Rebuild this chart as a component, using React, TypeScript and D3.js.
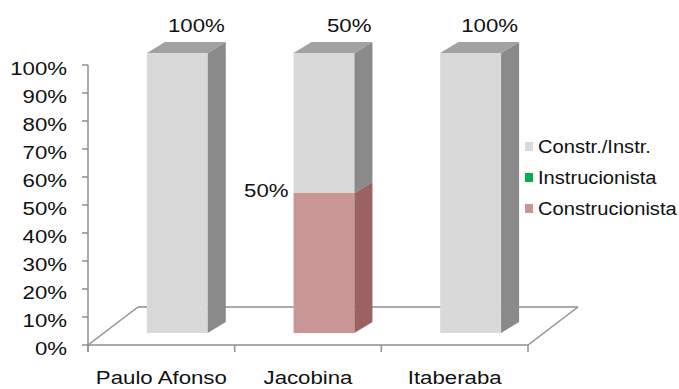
import React from "react";
import * as d3 from "d3";

const categories = ["Paulo Afonso", "Jacobina", "Itaberaba"];
const seriesNames = ["Construcionista", "Instrucionista", "Constr./Instr."];
const construcionista = [0, 0.5, 0];
const instrucionista = [0, 0, 0];
const constrInstr = [1, 0.5, 1];
const yTicks = [0, 0.1, 0.2, 0.3, 0.4, 0.5, 0.6, 0.7, 0.8, 0.9, 1];
const legendOrder = ["Constr./Instr.", "Instrucionista", "Construcionista"];

const W = 679;
const H = 389;
const FONT = "'Liberation Sans', Arial, sans-serif";
const colors: Record<string, { front: string; side: string; top: string }> = {
  "Construcionista": { front: "#c99696", side: "#9c6262", top: "#b07a7a" },
  "Instrucionista": { front: "#00b050", side: "#008a3e", top: "#00a048" },
  "Constr./Instr.": { front: "#d9d9d9", side: "#8a8a8a", top: "#a2a2a2" },
};

export default function App() {
  const left = 88, right = 528, bottom = 345, top = 65;
  const floorDx = 50, floorDy = 38;
  const shiftX = 16, shiftY = 12; // bar front depth position
  const depthX = 18, depthY = 11; // bar depth
  const x = d3.scaleBand<string>().domain(categories).range([left, right]);
  const y = d3.scaleLinear().domain([0, 1]).range([bottom, top]);
  const barW = x.bandwidth() * 0.415;

  const seriesValues = [construcionista, instrucionista, constrInstr];
  const stack = d3.stack<number>().keys(seriesNames.map((_, i) => String(i)))
    .value((i, k) => seriesValues[+k][i]);
  const stacked = stack(categories.map((_, i) => i));

  const axisColor = "#8f8f8f";
  const txt = (key: string, tx: number, ty: number, s: string, anchor: string, size = 17.5, sx = 1.27) => (
    <g key={key} transform={`translate(${tx},${ty}) scale(${sx},1)`}>
      <text textAnchor={anchor} fontFamily={FONT} fontSize={size} fill="#111">{s}</text>
    </g>
  );

  const bars: React.ReactNode[] = [];
  const labels: React.ReactNode[] = [];
  categories.forEach((c, ci) => {
    const x0 = (x(c) as number) + x.bandwidth() / 2 + shiftX - barW / 2;
    const x1 = x0 + barW;
    let topSeries = -1;
    stacked.forEach((s, si) => { if (s[ci][1] - s[ci][0] > 0) topSeries = si; });
    stacked.forEach((s, si) => {
      const v0 = s[ci][0], v1 = s[ci][1];
      if (v1 - v0 <= 0) return;
      const col = colors[seriesNames[si]];
      const yb = y(v0) - shiftY, yt = y(v1) - shiftY;
      bars.push(<rect key={`f${ci}${si}`} x={x0} y={yt} width={barW} height={yb - yt} fill={col.front} />);
      bars.push(<polygon key={`s${ci}${si}`} fill={col.side}
        points={`${x1},${yb} ${x1 + depthX},${yb - depthY} ${x1 + depthX},${yt - depthY} ${x1},${yt}`} />);
      if (si === topSeries) {
        bars.push(<polygon key={`t${ci}${si}`} fill={col.top}
          points={`${x0},${yt} ${x0 + depthX},${yt - depthY} ${x1 + depthX},${yt - depthY} ${x1},${yt}`} />);
        labels.push(txt(`l${ci}${si}`, x1 + depthX - 1, 32, d3.format(".0%")(v1 - v0), "end"));
      } else {
        labels.push(txt(`l${ci}${si}`, x0 - 5, yt + 4, d3.format(".0%")(v1 - v0), "end"));
      }
    });
  });

  return (
    <svg width={W} height={H} style={{ position: "absolute", left: 0, top: 0, background: "#fff" }}>
      <g stroke={axisColor} strokeWidth={1.5} fill="none">
        <line x1={left} y1={bottom} x2={left + floorDx} y2={bottom - floorDy} />
        <line x1={left + floorDx} y1={bottom - floorDy} x2={right + floorDx} y2={bottom - floorDy} />
        <line x1={right} y1={bottom} x2={right + floorDx} y2={bottom - floorDy} />
        <line x1={left} y1={bottom} x2={right} y2={bottom} />
        <line x1={left} y1={top} x2={left} y2={bottom + 7} />
        {yTicks.map((t) => <line key={`yt${t}`} x1={left - 6} x2={left} y1={y(t)} y2={y(t)} />)}
        {[...categories.map((c) => x(c) as number), right].map((v, i) => (
          <line key={`xt${i}`} x1={v} x2={v} y1={bottom} y2={bottom + 7} />
        ))}
      </g>
      {bars}
      {labels}
      {yTicks.map((t) => txt(`yl${t}`, 67, y(t) + 9.5, d3.format(".0%")(t), "end"))}
      {categories.map((c) => txt(`xl${c}`, (x(c) as number) + x.bandwidth() / 2, 384, c, "middle"))}
      {legendOrder.map((n, i) => (
        <g key={`lg${n}`} transform={`translate(525,${142 + i * 31})`}>
          <rect x={0} y={0} width={8} height={9} fill={colors[n].front} />
          <g transform="translate(13,11) scale(1.06,1)">
            <text x={0} y={0} fontFamily={FONT} fontSize={19} fill="#111">{n}</text>
          </g>
        </g>
      ))}
    </svg>
  );
}
